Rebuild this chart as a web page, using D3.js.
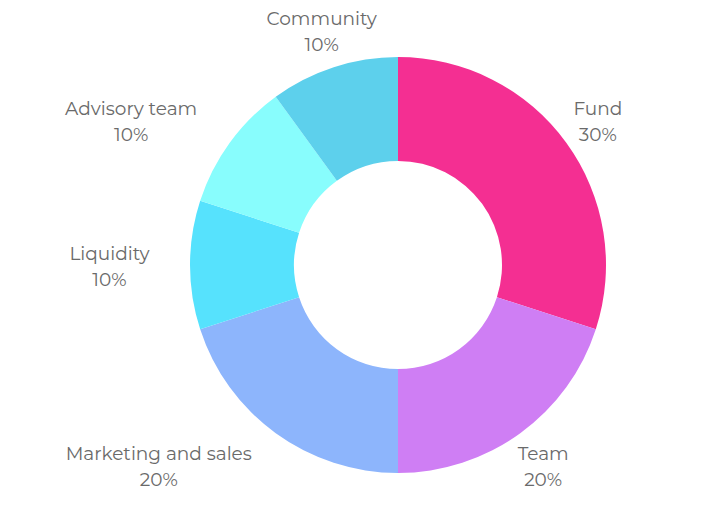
<!DOCTYPE html>
<html><head><meta charset="utf-8">
<script src="https://cdn.jsdelivr.net/npm/d3@7"></script>
<style>body{margin:0;background:#fff;}svg{display:block;}</style>
</head><body>
<svg id="chart" width="717" height="518"></svg>
<script>
const categories = ["Fund", "Team", "Marketing and sales", "Liquidity", "Advisory team", "Community"];
const values = [30, 20, 20, 10, 10, 10];
const colors = ["#f42f92", "#cf7ef4", "#8db5fc", "#56e2fd", "#88fdfd", "#5dd0ec"];

const svg = d3.select("#chart");
const cx = 398, cy = 265, outerR = 208, innerR = 104, labelR = 247;
const data = categories.map((c, i) => ({ name: c, value: values[i], color: colors[i] }));
const pie = d3.pie().value(d => d.value).sort(null);
const arc = d3.arc().innerRadius(innerR).outerRadius(outerR);
const labelArc = d3.arc().innerRadius(labelR).outerRadius(labelR);
const g = svg.append("g").attr("transform", `translate(${cx},${cy})`);
const arcs = pie(data);
g.selectAll("path").data(arcs).join("path")
  .attr("d", arc).attr("fill", d => d.data.color);

const lab = g.selectAll("g.lab").data(arcs).join("g").attr("class", "lab");
lab.each(function(d) {
  const [x, y] = labelArc.centroid(d);
  const el = d3.select(this);
  const t = el.append("text")
    .attr("text-anchor", "middle")
    .style("font-family", "Montserrat, 'DejaVu Sans', sans-serif")
    .style("font-size", "18.5px")
    .attr("fill", "#6a6a6a");
  t.append("tspan").attr("x", 0).attr("y", -5).text(d.data.name);
  t.append("tspan").attr("x", 0).attr("y", 21).text(d.data.value + "%");
  const w = t.node().getBBox().width;
  let dx = x;
  if (x < -100) dx = x - w / 2 - 1;
  el.attr("transform", `translate(${dx},${y})`);
});
</script>
</body></html>
